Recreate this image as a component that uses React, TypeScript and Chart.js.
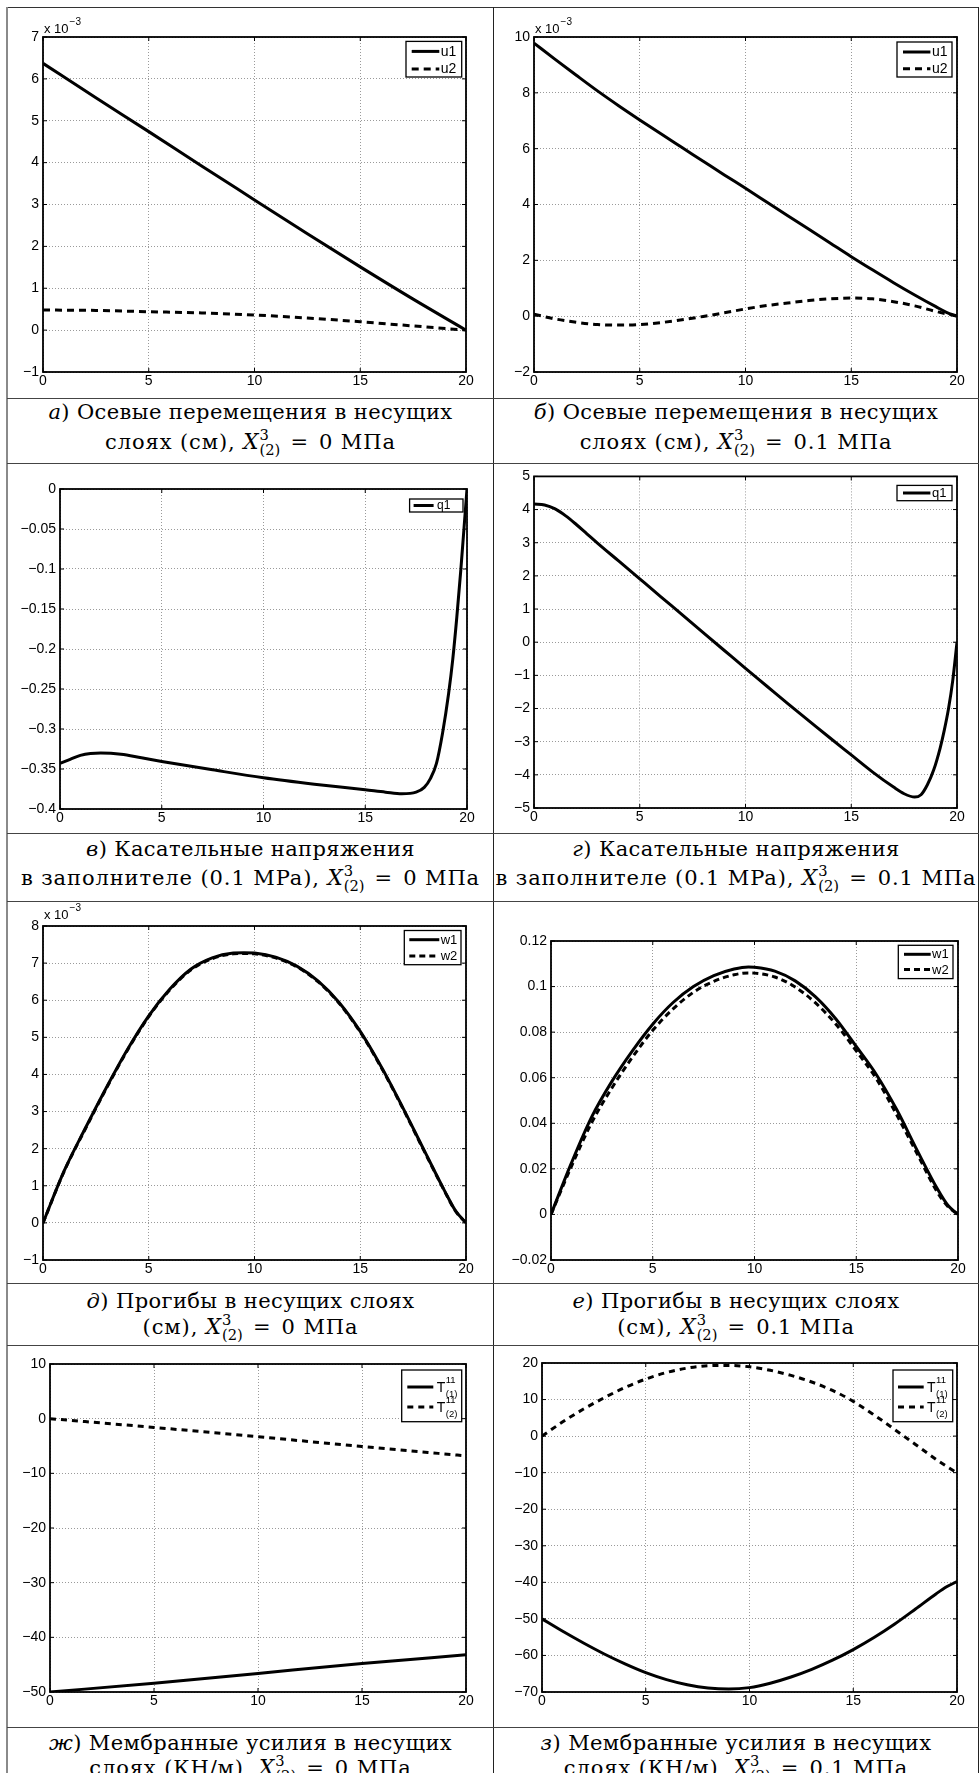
import React, { useEffect, useRef } from 'react';
import { Chart, registerables } from 'chart.js';

Chart.register(...registerables);

// ---------------- DATA ----------------
// (а) u1, u2 (x 10^-3)
const A_X = [0, 2.5, 5, 7.5, 10, 12.5, 15, 17.5, 20];
const A_U1 = [6.37, 5.55, 4.74, 3.92, 3.11, 2.3, 1.51, 0.74, 0.0];
const A_U2 = [0.48, 0.47, 0.44, 0.41, 0.36, 0.29, 0.2, 0.1, 0.0];

// (б) u1, u2 (x 10^-3)
const B_X1 = [0, 1, 2, 3, 4, 5, 6, 7, 8, 9, 10, 11, 12, 13, 14, 15, 16, 17, 18, 19, 19.5, 20];
const B_U1 = [9.78, 9.2, 8.63, 8.07, 7.54, 7.03, 6.53, 6.04, 5.55, 5.06, 4.58, 4.09, 3.6, 3.11, 2.62, 2.13, 1.66, 1.2, 0.76, 0.34, 0.14, 0.0];
const B_X2 = [0, 1, 2, 3, 4, 5, 6, 7, 8, 9, 10, 11, 12, 13, 14, 15, 16, 17, 18, 19, 20];
const B_U2 = [0.07, -0.1, -0.22, -0.3, -0.32, -0.3, -0.23, -0.13, -0.01, 0.12, 0.26, 0.38, 0.47, 0.56, 0.62, 0.65, 0.62, 0.52, 0.37, 0.17, 0.0];

// (в) q1
const C_X = [0, 0.5, 1, 1.5, 2, 3, 4, 5, 7.5, 10, 12.5, 15, 16, 16.8, 17.5, 17.9, 18.2, 18.5, 18.8, 19.1, 19.3, 19.5, 19.7, 19.85, 20];
const C_Q1 = [-0.343, -0.338, -0.333, -0.3305, -0.33, -0.3315, -0.336, -0.3405, -0.351, -0.361, -0.369, -0.376, -0.379, -0.381, -0.379, -0.373, -0.362, -0.343, -0.305, -0.255, -0.213, -0.16, -0.1, -0.05, 0.0];

// (г) q1
const D_X = [0, 0.5, 1, 1.5, 2, 2.5, 3, 4, 5, 6, 7, 8, 9, 10, 11, 12, 13, 14, 15, 16, 17, 17.5, 18, 18.3, 18.6, 18.9, 19.2, 19.4, 19.6, 19.8, 20];
const D_Q1 = [4.17, 4.14, 4.02, 3.81, 3.55, 3.27, 2.99, 2.45, 1.91, 1.37, 0.83, 0.29, -0.25, -0.79, -1.32, -1.85, -2.37, -2.89, -3.4, -3.91, -4.37, -4.57, -4.67, -4.6, -4.3, -3.85, -3.2, -2.65, -2.0, -1.15, 0];

// (д) w1, w2 (x 10^-3)
const E_X = [0, 1, 2, 3, 4, 5, 6, 7, 8, 9, 9.5, 10, 11, 12, 13, 14, 15, 16, 17, 18, 19, 19.5, 20];
const E_W1 = [0, 1.4, 2.55, 3.65, 4.68, 5.58, 6.3, 6.84, 7.14, 7.27, 7.28, 7.27, 7.16, 6.92, 6.52, 5.94, 5.16, 4.2, 3.12, 1.98, 0.85, 0.33, 0];
const E_W2 = [0, 1.39, 2.53, 3.63, 4.66, 5.56, 6.28, 6.82, 7.12, 7.25, 7.26, 7.25, 7.14, 6.9, 6.5, 5.92, 5.14, 4.18, 3.1, 1.96, 0.84, 0.32, 0];

// (е) w1, w2
const F_X = [0, 1, 2, 3, 4, 5, 6, 7, 8, 9, 9.7, 10, 11, 12, 13, 14, 15, 16, 17, 18, 19, 19.5, 20];
const F_W1 = [0, 0.0225, 0.0428, 0.0585, 0.0718, 0.0835, 0.093, 0.1, 0.1048, 0.1077, 0.1086, 0.1085, 0.1068, 0.1025, 0.0955, 0.0858, 0.0737, 0.0612, 0.0458, 0.028, 0.011, 0.004, 0];
const F_W2 = [0, 0.021, 0.0403, 0.0556, 0.069, 0.0808, 0.0902, 0.0975, 0.1023, 0.1052, 0.106, 0.1059, 0.1042, 0.0998, 0.0928, 0.0835, 0.0718, 0.0594, 0.0435, 0.0265, 0.0095, 0.0035, 0];

// (ж) T11(1), T11(2)
const G_X = [0, 5, 10, 15, 20];
const G_T1 = [-50, -48.4, -46.6, -44.8, -43.2];
const G_T2 = [0, -1.6, -3.3, -5.1, -6.8];

// (з) T11(1), T11(2)
const H_X = [0, 1, 2, 3, 4, 5, 6, 7, 8, 9, 10, 11, 12, 13, 14, 15, 16, 17, 18, 19, 19.5, 20];
const H_T1 = [-50, -53.4, -56.6, -59.6, -62.3, -64.7, -66.6, -68.0, -68.9, -69.2, -68.8, -67.6, -65.9, -63.8, -61.3, -58.4, -55.1, -51.4, -47.3, -43.1, -41.2, -39.8];
const H_T2 = [0, 3.9, 7.4, 10.5, 13.3, 15.6, 17.4, 18.6, 19.25, 19.35, 18.95, 18.0, 16.6, 14.8, 12.5, 9.5, 5.8, 1.8, -2.3, -6.4, -8.3, -10.1];

// x axis
const X_MIN = 0;
const X_MAX = 20;
const X_STEP = 5;

// captions
const CAP_LETTERS = ['а', 'б', 'в', 'г', 'д', 'е', 'ж', 'з'];
const CAP_LINE1 = [
  'Осевые перемещения в несущих',
  'Осевые перемещения в несущих',
  'Касательные напряжения',
  'Касательные напряжения',
  'Прогибы в несущих слоях',
  'Прогибы в несущих слоях',
  'Мембранные усилия в несущих',
  'Мембранные усилия в несущих',
];
const CAP_PREFIX2 = [
  'слоях (см), ',
  'слоях (см), ',
  'в заполнителе (0.1 MPa), ',
  'в заполнителе (0.1 MPa), ',
  '(см), ',
  '(см), ',
  'слоях (КН/м), ',
  'слоях (КН/м), ',
];
const CAP_VALUES = ['0', '0.1', '0', '0.1', '0', '0.1', '0', '0.1'];

// ---------------- STYLE / LAYOUT ----------------
const TICK_FONT = '"Liberation Sans", Arial, Helvetica, sans-serif';
const CAP_FONT = '"DejaVu Serif", "Liberation Serif", serif';
const LINE_W = 3;
const TICK_LEN = 4;

type SeriesDef = { label: string; xs: number[]; ys: number[]; dashed: boolean };
type LegendDef = { right: number; top: number; w: number; h: number; rows: number[]; l0: number; l1: number; tx: number; font: number };
type PanelDef = {
  cell: [number, number, number, number];
  plot: [number, number, number, number];
  yMin: number;
  yMax: number;
  yStep: number;
  series: SeriesDef[];
  legend: LegendDef;
  exp?: number;
  dash: number[];
};

const PANELS: PanelDef[] = [
  {
    cell: [8, 8, 485, 390], plot: [43, 37, 466, 372], yMin: -1, yMax: 7, yStep: 1, exp: 4, dash: [7, 5],
    series: [
      { label: 'u1', xs: A_X, ys: A_U1, dashed: false },
      { label: 'u2', xs: A_X, ys: A_U2, dashed: true },
    ],
    legend: { right: 4.3, top: 4.4, w: 55.7, h: 35.6, rows: [10, 27.6], l0: 5.7, l1: 33.3, tx: 34.7, font: 14 },
  },
  {
    cell: [494, 8, 484, 390], plot: [534, 37, 957, 372], yMin: -2, yMax: 10, yStep: 2, exp: 4, dash: [7, 5],
    series: [
      { label: 'u1', xs: B_X1, ys: B_U1, dashed: false },
      { label: 'u2', xs: B_X2, ys: B_U2, dashed: true },
    ],
    legend: { right: 5, top: 5, w: 55, h: 35, rows: [10, 26.7], l0: 6, l1: 33.4, tx: 35, font: 14 },
  },
  {
    cell: [8, 464, 485, 369], plot: [60, 489, 467, 809], yMin: -0.4, yMax: 0, yStep: 0.05, dash: [7, 5],
    series: [{ label: 'q1', xs: C_X, ys: C_Q1, dashed: false }],
    legend: { right: 4, top: 10, w: 53.4, h: 13, rows: [6.5], l0: 4, l1: 24, tx: 27.4, font: 12 },
  },
  {
    cell: [494, 464, 484, 369], plot: [534, 475, 957, 808], yMin: -5, yMax: 5, yStep: 1, dash: [7, 5],
    series: [{ label: 'q1', xs: D_X, ys: D_Q1, dashed: false }],
    legend: { right: 5, top: 9, w: 55, h: 15.3, rows: [7.6], l0: 6, l1: 33.4, tx: 35, font: 13 },
  },
  {
    cell: [8, 902, 485, 381], plot: [43, 926, 466, 1260], yMin: -1, yMax: 8, yStep: 1, exp: 7, dash: [6, 4],
    series: [
      { label: 'w1', xs: E_X, ys: E_W1, dashed: false },
      { label: 'w2', xs: E_X, ys: E_W2, dashed: true },
    ],
    legend: { right: 5, top: 4.5, w: 56.7, h: 34.2, rows: [9.2, 25.5], l0: 5, l1: 35, tx: 36.4, font: 13 },
  },
  {
    cell: [494, 902, 484, 381], plot: [551, 941, 958, 1260], yMin: -0.02, yMax: 0.12, yStep: 0.02, dash: [6, 4],
    series: [
      { label: 'w1', xs: F_X, ys: F_W1, dashed: false },
      { label: 'w2', xs: F_X, ys: F_W2, dashed: true },
    ],
    legend: { right: 5, top: 4.3, w: 54.7, h: 33.3, rows: [9, 24.3], l0: 5.7, l1: 32.4, tx: 33.7, font: 13 },
  },
  {
    cell: [8, 1346, 485, 381], plot: [50, 1364, 466, 1692], yMin: -50, yMax: 10, yStep: 10, dash: [6, 5],
    series: [
      { label: 'T^{11}_{(1)}', xs: G_X, ys: G_T1, dashed: false },
      { label: 'T^{11}_{(2)}', xs: G_X, ys: G_T2, dashed: true },
    ],
    legend: { right: 4.3, top: 6, w: 60, h: 51.7, rows: [17, 37], l0: 5.6, l1: 31.6, tx: 35, font: 14 },
  },
  {
    cell: [494, 1346, 484, 381], plot: [542, 1363, 957, 1692], yMin: -70, yMax: 20, yStep: 10, dash: [6, 5],
    series: [
      { label: 'T^{11}_{(1)}', xs: H_X, ys: H_T1, dashed: false },
      { label: 'T^{11}_{(2)}', xs: H_X, ys: H_T2, dashed: true },
    ],
    legend: { right: 4.3, top: 7, w: 59.7, h: 51.7, rows: [17, 37], l0: 5, l1: 30.7, tx: 34, font: 14 },
  },
];

const fmt = (v: any) => {
  const n = Math.round(Number(v) * 1e6) / 1e6;
  if (n === 0) return '0';
  return (n < 0 ? '\u2212' : '') + String(Math.abs(n));
};

function drawLabel(ctx: CanvasRenderingContext2D, label: string, x: number, y: number, size: number) {
  const m = label.match(/^(.+)\^\{(.+)\}_\{(.+)\}$/);
  ctx.fillStyle = '#000';
  ctx.textAlign = 'left';
  ctx.textBaseline = 'middle';
  if (!m) {
    ctx.font = `${size}px ${TICK_FONT}`;
    ctx.fillText(label, x, y + 0.5);
    return;
  }
  ctx.font = `${size}px ${TICK_FONT}`;
  ctx.fillText(m[1], x, y + 1);
  const bw = ctx.measureText(m[1]).width;
  ctx.font = `9.5px ${TICK_FONT}`;
  ctx.fillText(m[2], x + bw + 0.5, y - 7);
  ctx.fillText(m[3], x + bw + 0.5, y + 7.5);
}

const decor = (p: PanelDef) => ({
  id: 'decor',
  afterDatasetsDraw(chart: any) {
    const { ctx, chartArea: a, scales } = chart;
    ctx.save();
    ctx.strokeStyle = '#000';
    ctx.lineWidth = 1;
    ctx.beginPath();
    scales.x.ticks.forEach((t: any) => {
      const px = scales.x.getPixelForValue(t.value);
      ctx.moveTo(px, a.bottom);
      ctx.lineTo(px, a.bottom - TICK_LEN);
      ctx.moveTo(px, a.top);
      ctx.lineTo(px, a.top + TICK_LEN);
    });
    scales.y.ticks.forEach((t: any) => {
      const py = scales.y.getPixelForValue(t.value);
      ctx.moveTo(a.left, py);
      ctx.lineTo(a.left + TICK_LEN, py);
      ctx.moveTo(a.right, py);
      ctx.lineTo(a.right - TICK_LEN, py);
    });
    ctx.stroke();
    ctx.lineWidth = 1.8;
    ctx.strokeRect(a.left, a.top, a.right - a.left, a.bottom - a.top);
    ctx.restore();
  },
  afterDraw(chart: any) {
    const { ctx, chartArea: a } = chart;
    const L = p.legend;
    ctx.save();
    const bx = a.right - L.right - L.w;
    const by = a.top + L.top;
    ctx.fillStyle = '#fff';
    ctx.fillRect(bx, by, L.w, L.h);
    ctx.strokeStyle = '#000';
    ctx.lineWidth = 1.3;
    ctx.strokeRect(bx, by, L.w, L.h);
    chart.data.datasets.forEach((ds: any, i: number) => {
      const y = by + L.rows[i];
      ctx.setLineDash(ds.borderDash || []);
      ctx.lineWidth = LINE_W;
      ctx.strokeStyle = '#000';
      ctx.beginPath();
      ctx.moveTo(bx + L.l0, y);
      ctx.lineTo(bx + L.l1, y);
      ctx.stroke();
      ctx.setLineDash([]);
      drawLabel(ctx, ds.label, bx + L.tx, y, L.font);
    });
    if (p.exp !== undefined) {
      ctx.fillStyle = '#000';
      ctx.textAlign = 'left';
      ctx.textBaseline = 'alphabetic';
      ctx.font = `13px ${TICK_FONT}`;
      const base = a.top - p.exp;
      ctx.fillText('x 10', a.left + 1, base);
      const w = ctx.measureText('x 10').width;
      ctx.font = `10px ${TICK_FONT}`;
      ctx.fillText('\u22123', a.left + 1 + w + 1, base - 8);
    }
    ctx.restore();
  },
});

function Panel({ p }: { p: PanelDef }) {
  const ref = useRef<HTMLCanvasElement>(null);
  const [cx, cy, cw, ch] = p.cell;
  useEffect(() => {
    const [l, t, r, b] = p.plot;
    const gridCfg = { color: '#9a9a9a', lineWidth: 1, drawTicks: false };
    const borderCfg = { display: false, dash: [1, 2] };
    const tickFont = { size: 14, family: TICK_FONT };
    const chart = new Chart(ref.current as HTMLCanvasElement, {
      type: 'line',
      data: {
        datasets: p.series.map((s) => ({
          label: s.label,
          data: s.xs.map((x, i) => ({ x, y: s.ys[i] })),
          borderColor: '#000',
          backgroundColor: '#000',
          borderWidth: LINE_W,
          borderDash: s.dashed ? p.dash : [],
          pointRadius: 0,
          cubicInterpolationMode: 'monotone',
          fill: false,
        })),
      } as any,
      options: {
        animation: false,
        responsive: false,
        devicePixelRatio: 1,
        events: [],
        layout: { padding: { left: 0, top: t - cy, right: cx + cw - r, bottom: 0 } },
        plugins: { legend: { display: false }, tooltip: { enabled: false } },
        scales: {
          x: {
            type: 'linear',
            min: X_MIN,
            max: X_MAX,
            ticks: { stepSize: X_STEP, padding: 1, maxRotation: 0, autoSkip: false, color: '#000', font: tickFont, callback: fmt },
            grid: gridCfg,
            border: borderCfg,
            afterFit: (s: any) => {
              s.height = cy + ch - b;
            },
          },
          y: {
            type: 'linear',
            min: p.yMin,
            max: p.yMax,
            ticks: { stepSize: p.yStep, padding: 4, autoSkip: false, color: '#000', font: tickFont, callback: fmt },
            grid: gridCfg,
            border: borderCfg,
            afterFit: (s: any) => {
              s.width = l - cx;
            },
          },
        },
      } as any,
      plugins: [decor(p)],
    });
    return () => chart.destroy();
  }, []);
  return (
    <canvas
      ref={ref}
      width={cw}
      height={ch}
      style={{ position: 'absolute', left: cx, top: cy, width: cw, height: ch }}
    />
  );
}

function XSym() {
  return (
    <span style={{ whiteSpace: 'nowrap', letterSpacing: 0 }}>
      <i style={{ fontSize: '1.02em' }}>X</i>
      <span
        style={{
          display: 'inline-block',
          verticalAlign: '-0.4em',
          lineHeight: 1,
          fontSize: '0.7em',
          textAlign: 'left',
          marginLeft: 1,
        }}
      >
        <span style={{ display: 'block' }}>3</span>
        <span style={{ display: 'block' }}>(2)</span>
      </span>
    </span>
  );
}

const CAP_ROW_TOPS = [398, 833, 1283, 1727];
const CAP_L1 = [14, 16, 18, 16];
const CAP_L2 = [43, 44, 43, 40];
const COLS = [
  [8, 485],
  [494, 484],
];

function Caption({ i }: { i: number }) {
  const row = Math.floor(i / 2);
  const col = i % 2;
  const [x, w] = COLS[col];
  const top = CAP_ROW_TOPS[row];
  const lh = 26;
  const lineStyle = (c: number, ls: number): React.CSSProperties => ({
    position: 'absolute',
    left: x,
    width: w,
    top: top + c - lh / 2,
    height: lh,
    lineHeight: `${lh}px`,
    textAlign: 'center',
    whiteSpace: 'nowrap',
    fontFamily: CAP_FONT,
    fontSize: 21,
    letterSpacing: `${ls}px`,
    color: '#000',
  });
  return (
    <>
      <div style={lineStyle(CAP_L1[row], 0.4)}>
        <i>{CAP_LETTERS[i]}</i>) {CAP_LINE1[i]}
      </div>
      <div style={lineStyle(CAP_L2[row], 0.9)}>
        {CAP_PREFIX2[i]}
        <XSym /> <span style={{ margin: '0 0.12em' }}>=</span> {CAP_VALUES[i]} МПа
      </div>
    </>
  );
}

const HLINES = [398, 463, 833, 901, 1283, 1345, 1727];

export default function App() {
  return (
    <div
      style={{
        position: 'absolute',
        left: 0,
        top: 0,
        width: 979,
        height: 1773,
        overflow: 'hidden',
        background: '#fff',
      }}
    >
      {PANELS.map((p, i) => (
        <Panel key={i} p={p} />
      ))}
      {PANELS.map((_, i) => (
        <Caption key={'c' + i} i={i} />
      ))}
      <div style={{ position: 'absolute', left: 7, top: 7, width: 972, height: 1, background: '#333' }} />
      <div style={{ position: 'absolute', left: 6, top: 7, width: 2, height: 1766, background: '#8a8a8a' }} />
      <div style={{ position: 'absolute', left: 493, top: 7, width: 1, height: 1766, background: '#222' }} />
      <div style={{ position: 'absolute', left: 978, top: 7, width: 1, height: 1766, background: '#222' }} />
      {HLINES.map((y) => (
        <div key={y} style={{ position: 'absolute', left: 7, top: y, width: 972, height: 1, background: '#444' }} />
      ))}
    </div>
  );
}
